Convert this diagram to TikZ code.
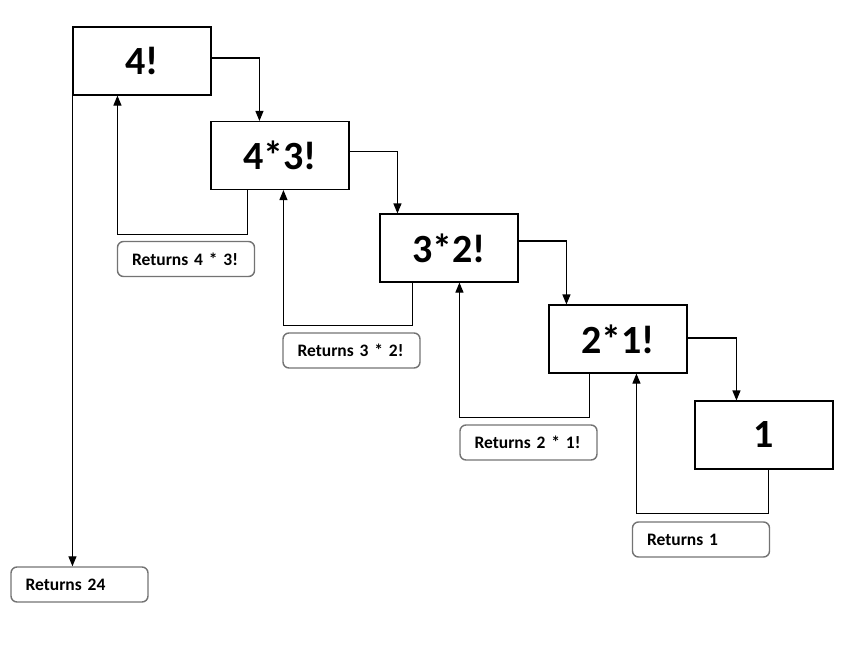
\documentclass[tikz,border=0pt]{standalone}
\usepackage{fontspec}
\setmainfont{Carlito}
\usetikzlibrary{arrows.meta,positioning,calc}

\begin{document}
\begin{tikzpicture}[
    x=1pt, y=-1pt,
    callbox/.style={rectangle, draw, line width=1.1pt, minimum width=138pt, minimum height=68pt, inner sep=0pt, font=\fontsize{40}{44}\selectfont\bfseries},
    retbox/.style={rectangle, draw=black!55, line width=1.4pt, rounded corners=6pt, minimum width=137pt, minimum height=35pt, text width=108pt, align=left, inner sep=0pt, font=\fontsize{17.5}{20}\selectfont\bfseries},
    arrow/.style={-{Triangle[length=10pt, width=8pt]}, line width=1.1pt}
]
\useasboundingbox (0,0) rectangle (860,645);

% Call boxes
\node[callbox] (f4) at (142,61) {4!};
\node[callbox] (f43) at (280,155.5) {4*3!};
\node[callbox] (f32) at (449,248) {3*2!};
\node[callbox] (f21) at (618,339) {2*1!};
\node[callbox] (f1) at (764,435) {1};

% Return labels
\node[retbox] (r43) at (186,259) {Returns 4 * 3!};
\node[retbox] (r32) at (351.5,350.5) {Returns 3 * 2!};
\node[retbox] (r21) at (528.5,442.5) {Returns 2 * 1!};
\node[retbox] (r1) at (701,539.5) {Returns 1};
\node[retbox] (r24) at (79.5,584.5) {Returns 24};

% Calls
\coordinate (c43) at ($(f43.north west)+(49,0)$);
\coordinate (c32) at ($(f32.north west)+(18,0)$);
\coordinate (c21) at ($(f21.north west)+(18,0)$);
\coordinate (c1) at ($(f1.north west)+(42,0)$);
\draw[arrow] ($(f4.east)+(0,-3)$) -| (c43);
\draw[arrow] ($(f43.east)+(0,-4)$) -| (c32);
\draw[arrow] ($(f32.east)+(0,-7)$) -| (c21);
\draw[arrow] ($(f21.east)+(0,-1)$) -| (c1);

% Returns
\coordinate (b43) at ($(f43.south west)+(37,0)$);
\coordinate (b32) at ($(f32.south west)+(33,0)$);
\coordinate (b21) at ($(f21.south west)+(41,0)$);
\coordinate (b1) at ($(f1.south west)+(74,0)$);
\coordinate (t4) at ($(f4.south west)+(45,0)$);
\coordinate (t43) at ($(f43.south west)+(73,0)$);
\coordinate (t32) at ($(f32.south west)+(80,0)$);
\coordinate (t21) at ($(f21.south west)+(88,0)$);
\draw[arrow] (b43) -- ++(0,44) -| (t4);
\draw[arrow] (b32) -- ++(0,43) -| (t43);
\draw[arrow] (b21) -- ++(0,44) -| (t32);
\draw[arrow] (b1) -- ++(0,44) -| (t21);
\draw[arrow] (f4.south west) -- (f4.south west |- r24.north);
\end{tikzpicture}
\end{document}
